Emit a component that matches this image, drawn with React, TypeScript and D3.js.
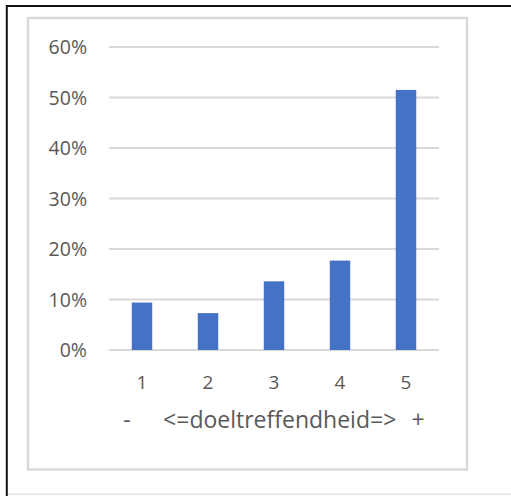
import React from "react";
import * as d3 from "d3";

// Share of answers per score on the effectiveness scale
const categories = ["1", "2", "3", "4", "5"];
const shares = [0.094, 0.073, 0.136, 0.177, 0.515];
const yTicks = [0, 0.1, 0.2, 0.3, 0.4, 0.5, 0.6];
const axisTitleLeft = "-";
const axisTitleMid = "<=doeltreffendheid=>";
const axisTitleRight = "+";

const W = 511;
const H = 496;
const plot = { left: 109, right: 439, top: 47, bottom: 350 };
const textColor = "#595959";
const gridColor = "#d9d9d9";
const barColor = "#4472C4";
const font = "'Open Sans', 'Noto Sans', sans-serif";

export default function App() {
  const x = d3
    .scaleBand<string>()
    .domain(categories)
    .range([plot.left, plot.right])
    .paddingInner(0.69)
    .paddingOuter(0.345);
  const y = d3.scaleLinear().domain([0, 0.6]).range([plot.bottom, plot.top]);
  const fmt = d3.format(".0%");

  return (
    <svg
      width={W}
      height={H}
      style={{ position: "absolute", left: 0, top: 0, background: "#fff" }}
    >
      {/* outer frame */}
      <line x1={6.8} x2={W} y1={6} y2={6} stroke="#111" strokeWidth={2} />
      <line x1={6.8} x2={6.8} y1={5} y2={H} stroke="#111" strokeWidth={2} />
      <line x1={8} x2={W} y1={494.3} y2={494.3} stroke="#e3e3e3" strokeWidth={1.5} />

      {/* chart area border */}
      <rect x={28} y={18} width={439} height={451.5} fill="none" stroke={gridColor} strokeWidth={2.4} />

      {/* gridlines and y labels */}
      {yTicks.map((t) => (
        <g key={t}>
          <line
            x1={plot.left}
            x2={plot.right}
            y1={y(t)}
            y2={y(t)}
            stroke={gridColor}
            strokeWidth={2}
          />
          <text
            x={87}
            y={y(t) + 7.3}
            textAnchor="end"
            fontFamily={font}
            fontSize={19.5}
            fill={textColor}
          >
            {fmt(t)}
          </text>
        </g>
      ))}

      {/* bars */}
      {categories.map((c, i) => (
        <rect
          key={c}
          x={x(c)}
          y={y(shares[i])}
          width={x.bandwidth()}
          height={y(0) - y(shares[i])}
          fill={barColor}
        />
      ))}

      {/* category labels */}
      {categories.map((c) => (
        <text
          key={c}
          x={(x(c) ?? 0) + x.bandwidth() / 2}
          y={389}
          textAnchor="middle"
          fontFamily={font}
          fontSize={19}
          fill={textColor}
        >
          {c}
        </text>
      ))}

      {/* axis title */}
      <g fontFamily={font} fontSize={23} fill={textColor}>
        <text x={127} y={428} textAnchor="middle">
          {axisTitleLeft}
        </text>
        <text x={279.7} y={428} textAnchor="middle">
          {axisTitleMid}
        </text>
        <text x={418} y={428} textAnchor="middle">
          {axisTitleRight}
        </text>
      </g>
    </svg>
  );
}
